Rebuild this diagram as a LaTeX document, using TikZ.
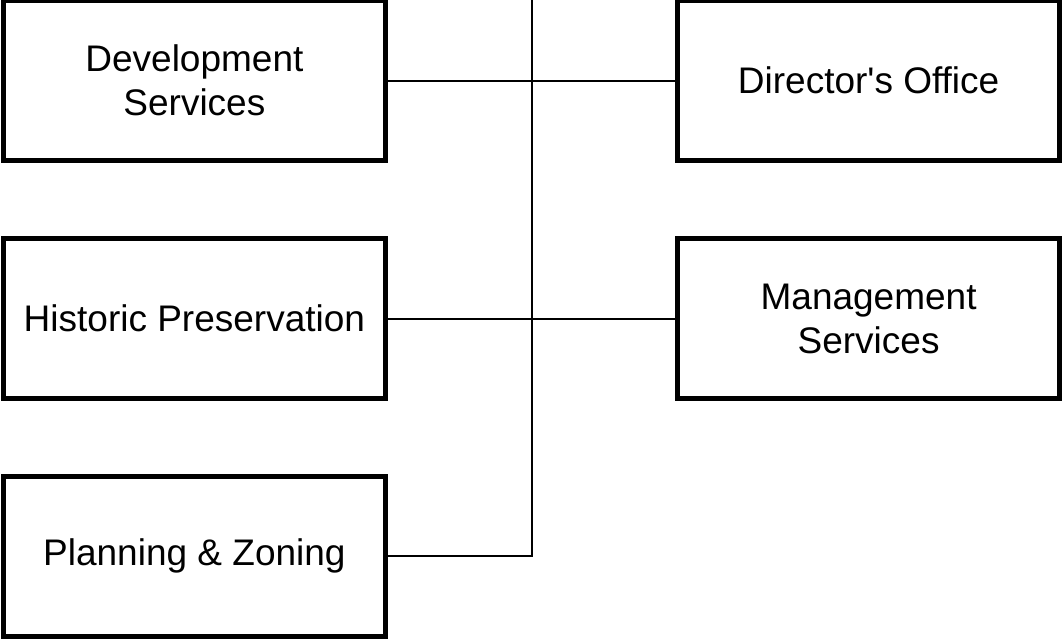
\documentclass[tikz,border=0pt]{standalone}
\usepackage{fontspec}
\setmainfont{Liberation Sans}[Ligatures=TeXOff]
\begin{document}
\begin{tikzpicture}[x=1pt,y=-1pt,
  unit/.style={draw=black, line width=5pt, fill=white, minimum width=382.7pt,
    minimum height=160pt, align=center, inner sep=0pt,
    font=\fontsize{37}{44}\selectfont},
  link/.style={draw=black, line width=2pt}]
\useasboundingbox (0,0) rectangle (1062,638);

% left column
\node[unit] (dev)  at (194.4,80.5)  {Development\\Services};
\node[unit] (hist) at (194.4,318.7) {Historic Preservation};
\node[unit] (plan) at (194.4,556)   {Planning \& Zoning};

% right column
\node[unit] (dir)  at (868.6,80.5)  {Director's Office};
\node[unit] (mgmt) at (868.6,318.7) {Management\\Services};

% central spine running off the top edge
\coordinate (spinetop) at (531.7,-4);

\draw[link] (plan.east) -| (spinetop);
\draw[link] (dev.east) -- (dir.west);
\draw[link] (hist.east) -- (mgmt.west);
\end{tikzpicture}
\end{document}
